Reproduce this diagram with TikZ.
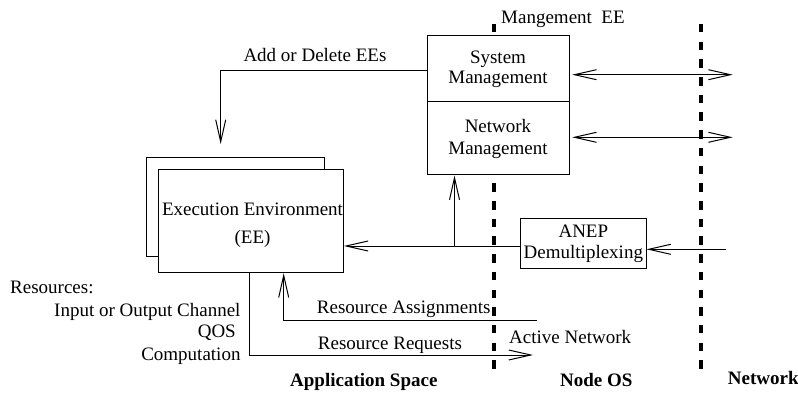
\documentclass[tikz,border=0pt]{standalone}
\usepackage{fontspec}
\setmainfont{Liberation Serif}
\usetikzlibrary{arrows.meta,calc}
\begin{document}
\begin{tikzpicture}[x=1pt,y=-1pt,
  txt/.style={font=\fontsize{19}{21}\selectfont, inner sep=0pt},
  btxt/.style={font=\fontsize{19}{21}\selectfont\bfseries, inner sep=0pt},
  boxn/.style={draw, line width=1pt, fill=white, inner sep=0pt, align=center,
               font=\fontsize{19}{20}\selectfont},
  conn/.style={line width=1pt},
  sep/.style={line width=4pt, dash pattern=on 8.5pt off 9.2pt},
  >={Straight Barb[length=22pt,width=10pt,line width=1pt]}
]
\useasboundingbox (0,0) rectangle (798,393);
% separators
\draw[sep] (494,24) -- (494,376);
\draw[sep] (700.5,24) -- (700.5,376);

% boxes
\node[boxn, minimum width=142pt, minimum height=66.3pt] (sys) at (498,68.85) {System\\Management};
\node[boxn, minimum width=142pt, minimum height=73pt, font=\fontsize{19}{22}\selectfont] (net) at (498,138.5) {Network\\Management};
\node[boxn, minimum width=177.3pt, minimum height=98.7pt] (eeback) at (235.35,207.35) {};
\node[boxn, minimum width=185.3pt, minimum height=103.4pt] (ee) at (250.65,221) {};
\node[txt, anchor=base] (eet1) at (252.5,215) {Execution Environment};
\node[txt, anchor=base] (eet2) at (252.5,243.3) {(EE)};
\node[boxn, minimum width=125.3pt, minimum height=50pt, font=\fontsize{19}{21}\selectfont] (anep) at (583.35,243.3) {ANEP\\Demultiplexing};

% coordinates
\coordinate (addT) at (220.7,144);
\coordinate (sysR) at (732.7,74.7);
\coordinate (netR) at (732.7,137.3);
\coordinate (netIn) at (726,249.3);
\coordinate (junc) at (454.5,246);
\coordinate (raS) at (536.7,320.7);
\coordinate (raX) at (283.7,320.7);
\coordinate (rrX) at (249.7,355);
\coordinate (rrE) at (533,355);

% connectors
\draw[conn,->] (sys.west |- 0,70.3) -| (addT);
\draw[conn,<->] ($(sys.east |- sysR)+(2.7,0)$) -- (sysR);
\draw[conn,<->] ($(net.east |- netR)+(2.7,0)$) -- (netR);
\draw[conn,->] (netIn) -- (anep.east |- netIn);
\draw[conn,->] (anep.west |- junc) -- (ee.east |- junc);
\draw[conn,->] (junc) -- (junc |- net.south);
\draw[conn,->] (raS) -- (raX) -- (raX |- ee.south);
\draw[conn,->] (rrX |- ee.south) -- (rrX) -- (rrE);

% labels
\node[txt, anchor=base west] (lAdd) at (243.3,61.7) {Add or Delete EEs};
\node[txt, anchor=base west] (lMee) at (501,24) {Mangement~~EE};
\node[txt, anchor=base west] (lRes) at (10,293.3) {Resources:};
\node[txt, anchor=base east] (lIO) at (240.7,316.7) {Input or Output Channel};
\node[txt, anchor=base east] (lQOS) at (236,337.7) {QOS};
\node[txt, anchor=base east] (lComp) at (240.7,360) {Computation};
\node[txt, anchor=base west] (lRA) at (316.7,313.3) {Resource Assignments};
\node[txt, anchor=base west] (lRR) at (317.7,349) {Resource Requests};
\node[txt, anchor=base west] (lAN) at (509,343.3) {Active Network};
\node[btxt, anchor=base west] (lApp) at (290,386.7) {Application Space};
\node[btxt, anchor=base west] (lNOS) at (560,386.7) {Node OS};
\node[btxt, anchor=base west] (lNet) at (727.7,384) {Network};
\end{tikzpicture}
\end{document}
